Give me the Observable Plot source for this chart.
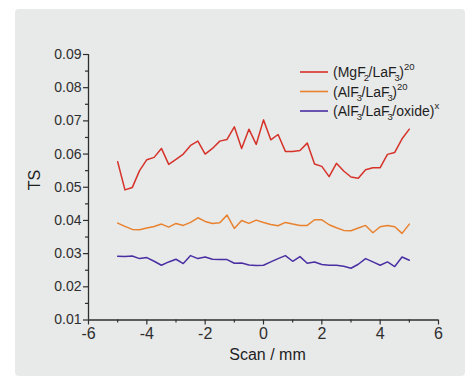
<!DOCTYPE html>
<html><head><meta charset="utf-8">
<script src="https://cdn.jsdelivr.net/npm/d3@7"></script>
<script src="https://cdn.jsdelivr.net/npm/@observablehq/plot@0.6"></script>
<style>
html,body{margin:0;padding:0;background:#fff;}
#wrap{position:relative;width:471px;height:381px;overflow:hidden;}
#panel{position:absolute;left:15px;top:9px;width:450px;height:367px;background:#e8e9e9;border-radius:4px;}
#chart{position:absolute;left:0;top:0;}
</style></head><body>
<div id="wrap"><div id="panel"></div><div id="chart"></div></div>
<script>
const scan = [-5,-4.75,-4.5,-4.25,-4,-3.75,-3.5,-3.25,-3,-2.75,-2.5,-2.25,-2,-1.75,-1.5,-1.25,-1,-0.75,-0.5,-0.25,0,
  0.25,0.5,0.75,1,1.25,1.5,1.75,2,2.25,2.5,2.75,3,3.25,3.5,3.75,4,4.25,4.5,4.75,5];
const mgfLaf = [0.0577,0.0492,0.0499,0.0550,0.0583,0.0590,0.0617,0.0569,0.0584,0.0600,0.0626,0.0639,0.0600,0.0617,0.0639,0.0644,0.0682,0.0617,0.0675,0.0629,0.0703,
  0.0643,0.0659,0.0608,0.0608,0.0611,0.0633,0.0570,0.0563,0.0532,0.0572,0.0549,0.0531,0.0527,0.0553,0.0559,0.0559,0.0599,0.0605,0.0646,0.0675];
const alfLaf = [0.0392,0.0382,0.0373,0.0372,0.0377,0.0382,0.0389,0.0380,0.0391,0.0385,0.0394,0.0408,0.0397,0.0391,0.0393,0.0416,0.0376,0.0400,0.0391,0.0401,0.0394,
  0.0388,0.0384,0.0394,0.0389,0.0385,0.0385,0.0402,0.0402,0.0387,0.0378,0.0370,0.0369,0.0377,0.0385,0.0363,0.0381,0.0385,0.0381,0.0361,0.0389];
const alfLafOxide = [0.0292,0.0291,0.0293,0.0285,0.0288,0.0277,0.0265,0.0275,0.0283,0.0270,0.0294,0.0285,0.0290,0.0283,0.0282,0.0282,0.0271,0.0272,0.0266,0.0264,0.0265,
  0.0275,0.0285,0.0294,0.0277,0.0291,0.0271,0.0275,0.0267,0.0265,0.0265,0.0262,0.0256,0.0268,0.0285,0.0275,0.0265,0.0275,0.0261,0.0290,0.0280];
const seriesLabels = ["(MgF2/LaF3)20", "(AlF3/LaF3)20", "(AlF3/LaF3/oxide)x"];
const seriesColors = ["#d5332a", "#e8822f", "#4a2fa3"];
const xMajor = [-6,-4,-2,0,2,4,6];
const xMinor = [-5,-3,-1,1,3,5];
const yMajor = [0.01,0.02,0.03,0.04,0.05,0.06,0.07,0.08,0.09];
const yMinor = [0.015,0.025,0.035,0.045,0.055,0.065,0.075,0.085];
const xLabel = "Scan / mm";
const yLabel = "TS";

const seriesValues = [mgfLaf, alfLaf, alfLafOxide];
const rows = seriesValues.flatMap((vals, s) => vals.map((v, i) => ({scan: scan[i], ts: v, s})));

const FONT = "'Liberation Sans', Arial, Helvetica, sans-serif";
const AX = "#2e2e2e";

function legendMark() {
  const g = d3.create("svg:g").attr("font-family", FONT).attr("font-size", 14)
    .attr("fill", "#1e1e1e").attr("text-anchor", "start").style("text-anchor", "start");
  seriesLabels.forEach((lab, i) => {
    const y = 72 + i * 19.5;
    g.append("line").attr("x1", 300).attr("x2", 328).attr("y1", y).attr("y2", y)
      .attr("stroke", seriesColors[i]).attr("stroke-width", 1.6);
    const t = g.append("text").attr("x", 333).attr("y", y + 5).attr("text-anchor", "start");
    let mode = "normal", sup = false;
    let prev = "";
    for (const ch of lab) {
      if (ch === ")") {
        const ts = t.append("tspan").text(ch);
        if (mode === "sub") ts.attr("dy", -4).attr("dx", -0.5);
        mode = "normal"; sup = true; prev = ch; continue;
      }
      if (sup) {
        t.append("tspan").attr("font-size", 9.5).attr("dy", mode === "sup" ? 0 : -7).text(ch);
        mode = "sup";
      } else if (/\d/.test(ch) && /[A-Za-z]/.test(prev)) {
        t.append("tspan").attr("font-size", 9.5).attr("dx", -2).attr("dy", 4).text(ch);
        mode = "sub";
      } else {
        const ts = t.append("tspan").text(ch);
        if (mode === "sub") ts.attr("dy", -4).attr("dx", -0.5);
        mode = "normal";
      }
      prev = ch;
    }
  });
  return g.node();
}

const chart = Plot.plot({
  width: 471, height: 381,
  marginLeft: 88, marginRight: 33, marginTop: 54, marginBottom: 61.5,
  style: {background: "transparent", fontFamily: FONT, color: AX},
  x: {domain: [-6, 6]},
  y: {domain: [0.01, 0.09]},
  marks: [
    Plot.axisX({ticks: xMajor, tickSize: 5, tickPadding: 3, fontSize: 16, tickFormat: d => String(d), label: null, stroke: AX, strokeWidth: 1.2}),
    Plot.axisX({ticks: xMinor, tickSize: 3, text: null, label: null, stroke: AX, strokeWidth: 1.2}),
    Plot.axisY({ticks: yMajor, tickSize: 5, tickPadding: 2, fontSize: 14, tickFormat: d3.format(".2f"), label: null, stroke: AX, strokeWidth: 1.2}),
    Plot.axisY({ticks: yMinor, tickSize: 3, text: null, label: null, stroke: AX, strokeWidth: 1.2}),
    Plot.ruleX([-6], {stroke: AX, strokeWidth: 1.3}),
    Plot.ruleY([0.01], {stroke: AX, strokeWidth: 1.3}),
    ...seriesValues.map((_, s) => Plot.line(rows.filter(d => d.s === s), {x: "scan", y: "ts", stroke: seriesColors[s], strokeWidth: 1.5})),
    Plot.text([yLabel], {text: d => d, frameAnchor: "left", rotate: -90, dx: -54, dy: 3, fontSize: 16, fill: "#1e1e1e"}),
    Plot.text([xLabel], {text: d => d, frameAnchor: "bottom", dy: 40, dx: 4, fontSize: 16, fill: "#1e1e1e"}),
    legendMark
  ]
});
document.getElementById("chart").appendChild(chart);
</script>
</body></html>
